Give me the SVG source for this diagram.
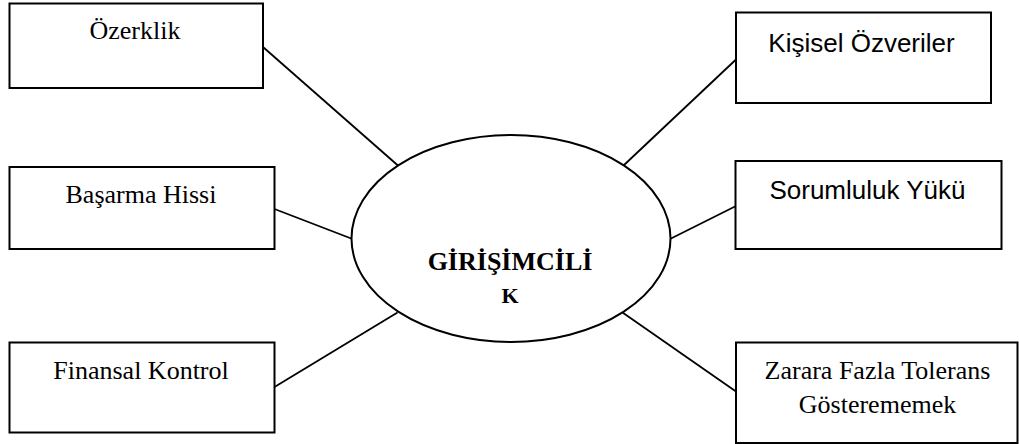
<svg xmlns="http://www.w3.org/2000/svg" width="1019" height="444" viewBox="0 0 1019 444">
<style>
.box{fill:#fff;stroke:#000;stroke-width:2}
.serif{font-family:"Liberation Serif","Times New Roman",serif;font-size:26px;fill:#000;text-anchor:middle}
.sans{font-family:"Liberation Sans",Arial,sans-serif;font-size:26px;fill:#000;text-anchor:middle}
.conn line{stroke:#000;stroke-width:1.8}
</style>
<rect width="1019" height="444" fill="#fff"/>
<g id="connectors" class="conn">
<line x1="263" y1="47" x2="398.5" y2="166"/>
<line x1="736" y1="59.5" x2="623.5" y2="165.5"/>
<line x1="274.5" y1="209" x2="352.5" y2="239"/>
<line x1="736" y1="206" x2="670" y2="239"/>
<line x1="274.5" y1="387" x2="397.5" y2="312.5"/>
<line x1="622.5" y1="312.5" x2="736" y2="391.5"/>
</g>
<g id="center">
<ellipse cx="511" cy="238.5" rx="159.5" ry="103.5" fill="#fff" stroke="#000" stroke-width="2"/>
<text x="510" y="269.5" class="serif" font-weight="bold">GİRİŞİMCİLİ</text>
<text x="510" y="303" class="serif" font-weight="bold" font-size="22px" style="font-size:22px">K</text>
</g>
<g id="ozerklik">
<rect class="box" x="9.5" y="3.5" width="253.5" height="84.5"/>
<text x="135" y="39" class="serif">Özerklik</text>
</g>
<g id="kisisel">
<rect class="box" x="736" y="12.5" width="255" height="90.5"/>
<text x="861.5" y="52" class="sans">Kişisel Özveriler</text>
</g>
<g id="basarma">
<rect class="box" x="9.5" y="167" width="265" height="82"/>
<text x="141" y="203" class="serif">Başarma Hissi</text>
</g>
<g id="sorumluluk">
<rect class="box" x="735.5" y="161" width="266" height="88"/>
<text x="867.5" y="199" class="sans">Sorumluluk Yükü</text>
</g>
<g id="finansal">
<rect class="box" x="9.5" y="342.5" width="265" height="90"/>
<text x="141" y="379" class="serif">Finansal Kontrol</text>
</g>
<g id="zarara">
<rect class="box" x="736" y="342.5" width="281.5" height="100.5"/>
<text x="877.5" y="379" class="serif">Zarara Fazla Tolerans</text>
<text x="877.5" y="413" class="serif">Gösterememek</text>
</g>
</svg>
